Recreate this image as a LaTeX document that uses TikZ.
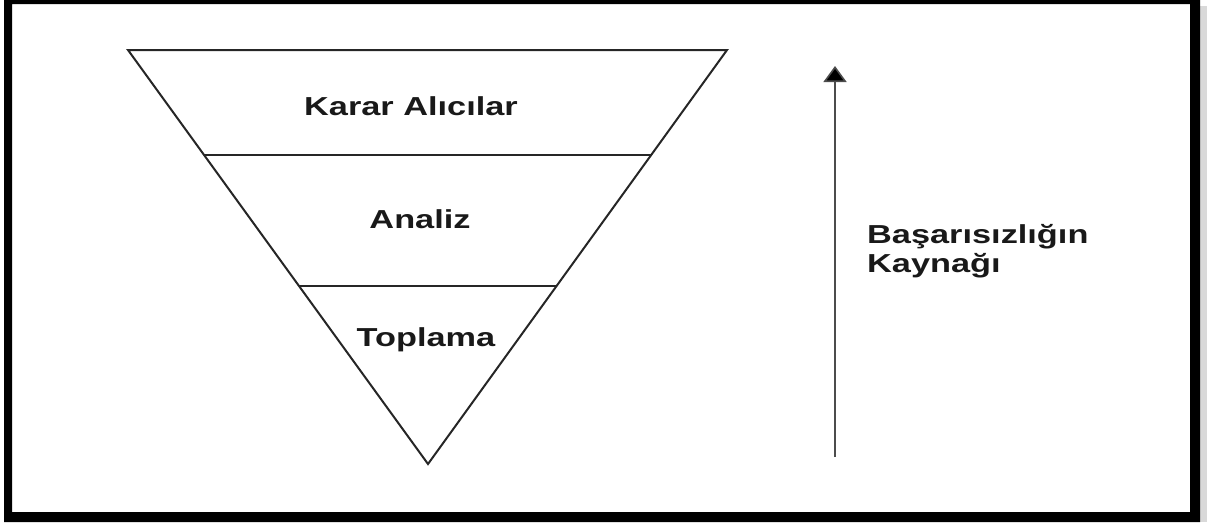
\documentclass[tikz,border=0pt]{standalone}
\usepackage{fontspec}
\setmainfont{Liberation Sans}
\usetikzlibrary{arrows.meta}
\newcommand{\wtxt}[1]{\scalebox{1.32}[1]{#1}}
\tikzset{
  lbl/.style={inner sep=0pt, font=\fontsize{26}{29}\selectfont\bfseries, text=black!90},
  edge/.style={line width=2pt, draw=black!85, line join=miter},
  arr/.style={line width=1.6pt, draw=black!70, -{Triangle[width=23pt,length=16pt,fill=black]}}
}
\begin{document}
\begin{tikzpicture}[x=1pt,y=-1pt]
\useasboundingbox (0,0) rectangle (1217,522);
% frame
\fill[black!15] (1200,6) rectangle (1207,522);
\fill[black, even odd rule] (4,-1) rectangle (1200,522) (12,4) rectangle (1190,512);
% triangle
\coordinate (tl) at (128,50);
\coordinate (tr) at (727,50);
\coordinate (ap) at (428,464);
\coordinate (l1) at (204.5,155);
\coordinate (r1) at (650.5,155);
\coordinate (l2) at (298.8,286);
\coordinate (r2) at (556.7,286);
\draw[edge] (tl) -- (tr) -- (ap) -- cycle;
\draw[edge] (l1) -- (r1);
\draw[edge] (l2) -- (r2);
% labels
\node[lbl, anchor=base] (karar) at (411,115) {\wtxt{Karar Alıcılar}};
\node[lbl, anchor=base] (analiz) at (420,228) {\wtxt{Analiz}};
\node[lbl, anchor=base] (toplama) at (426,346) {\wtxt{Toplama}};
% arrow
\coordinate (as) at (835,457);
\coordinate (ae) at (835,66);
\draw[arr] (as) -- (ae);
\node[lbl, anchor=base west] (bas) at (867,243) {\wtxt{Başarısızlığın}};
\node[lbl, anchor=base west] (kay) at (867,272) {\wtxt{Kaynağı}};
\end{tikzpicture}
\end{document}
